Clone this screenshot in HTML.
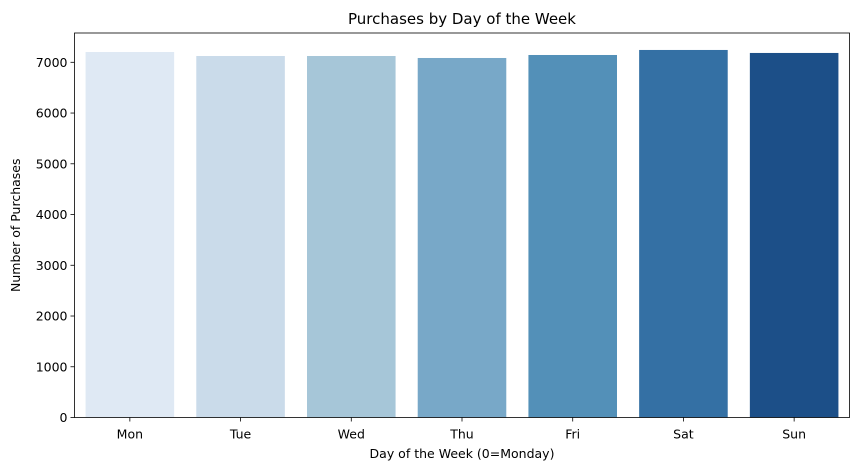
<!DOCTYPE html>
<html><head><meta charset="utf-8"><style>
body{margin:0;background:#fff;font-family:"DejaVu Sans","Liberation Sans",sans-serif;}
</style></head><body>
<svg id="chart" width="859" height="470" xmlns="http://www.w3.org/2000/svg" font-family="DejaVu Sans, Liberation Sans, sans-serif"></svg>
<script>
const categories=["Mon","Tue","Wed","Thu","Fri","Sat","Sun"];
const purchases=[7203,7124,7124,7085,7144,7243,7184];
const colors=["#dfe9f4","#cadbea","#a6c6d8","#78a8c8","#5390b8","#3470a4","#1c4f88"];
const yTicks=[0,1000,2000,3000,4000,5000,6000,7000];
const L=74.5,R=849.5,T=33,B=417.5;
const yScale=v=>B-v*(B-62.3)/7000;
const slot=(R-L)/categories.length;
const xCenter=i=>L+slot*(i+0.5);
const ns="http://www.w3.org/2000/svg";
const svg=document.getElementById('chart');
function mk(tag,attrs,text){const e=document.createElementNS(ns,tag);for(const k in attrs)e.setAttribute(k,attrs[k]);if(text!==undefined)e.textContent=text;svg.appendChild(e);return e;}
purchases.forEach((v,i)=>{
 const w=slot*0.8;
 const r=mk('rect',{x:xCenter(i)-w/2,y:yScale(v),width:w,height:B-yScale(v),fill:colors[i]});
 
 
});
yTicks.forEach(t=>{
 const y=yScale(t);
 const l=mk('line',{x1:L-4,x2:L,y1:y,y2:y,stroke:'#000','stroke-width':0.8});
 
 
 const tx=mk('text',{x:L-7,y:y+4.5,'text-anchor':'end','font-size':12.5},t);
 
 
});
categories.forEach((c,i)=>{
 const x=xCenter(i);
 const l=mk('line',{x1:x,x2:x,y1:B,y2:B+4,stroke:'#000','stroke-width':0.8});
 
 
 const tx=mk('text',{x:x,y:B+21,'text-anchor':'middle','font-size':12.5},c);
 
 
});
const frame=mk('rect',{x:L,y:T,width:R-L,height:B-T,fill:'none',stroke:'#000','stroke-width':0.8});


const title=mk('text',{x:(L+R)/2,y:24,'text-anchor':'middle','font-size':15},'Purchases by Day of the Week');


const xt=mk('text',{x:(L+R)/2,y:458,'text-anchor':'middle','font-size':12.5},'Day of the Week (0=Monday)');


const yt=mk('text',{x:20,y:(T+B)/2,'text-anchor':'middle','font-size':12.5,transform:'rotate(-90 20 '+((T+B)/2)+')'},'Number of Purchases');


</script>
</body></html>
